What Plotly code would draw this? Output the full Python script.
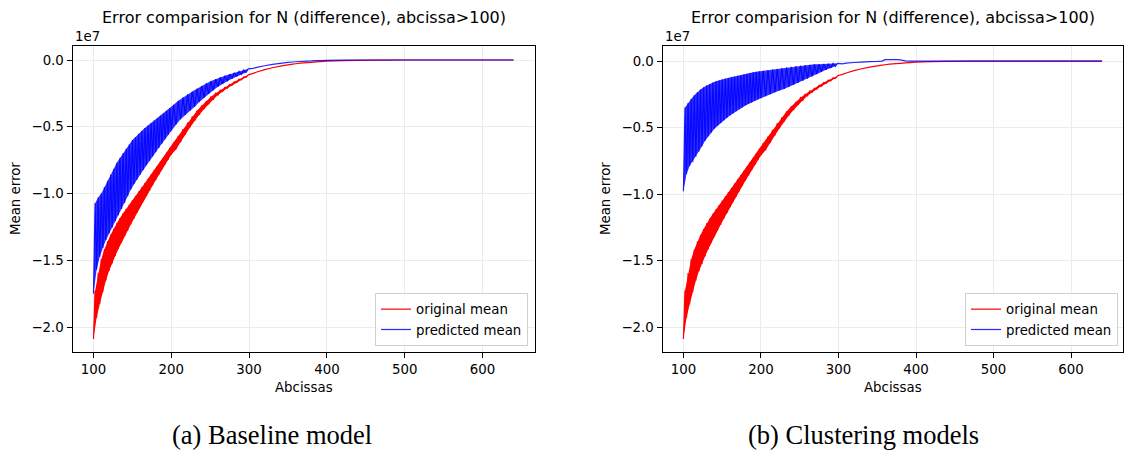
import plotly.graph_objects as go

# Sampled abscissas (denser where the mean error oscillates strongly)
abscissa = (list(range(100, 201, 2)) + list(range(203, 300, 3)) +
            [305, 310, 320, 330, 340, 350, 356, 360, 366, 374, 380, 386, 392,
             400, 420, 440, 470, 500, 550, 600, 640])
# the first OSC_POINTS samples alternate between trough (even index) and peak (odd index)
OSC_POINTS = 84

# Mean error values, in units of 1e7
original_mean = [
    -2.09, -1.728, -1.93, -1.594, -1.83, -1.49, -1.736, -1.418, -1.652, -1.358,
    -1.58, -1.308, -1.524, -1.264, -1.468, -1.22, -1.416, -1.184, -1.368, -1.148,
    -1.32, -1.114, -1.276, -1.082, -1.232, -1.05, -1.188, -1.018, -1.144, -0.986,
    -1.10, -0.954, -1.06, -0.922, -1.02, -0.89, -0.98, -0.858, -0.94, -0.826,
    -0.90, -0.794, -0.86, -0.762, -0.82, -0.73, -0.782, -0.694, -0.746, -0.658,
    -0.71,
    -0.616, -0.67, -0.568, -0.615, -0.518, -0.56, -0.468, -0.505, -0.423, -0.455,
    -0.38, -0.41, -0.342, -0.368, -0.308, -0.33, -0.276, -0.295, -0.249, -0.262,
    -0.225, -0.235, -0.204, -0.212, -0.183, -0.19, -0.162, -0.168, -0.144, -0.148,
    -0.127, -0.13, -0.111,
    -0.10, -0.09, -0.072, -0.058, -0.046, -0.036, -0.031, -0.028, -0.024, -0.02,
    -0.017, -0.014, -0.012, -0.009, -0.005, -0.003, -0.001, 0.0, 0.0, 0.0, 0.0,
]

baseline_predicted = [
    -1.75, -1.073, -1.57, -1.03, -1.475, -1.00, -1.408, -0.952, -1.348, -0.904,
    -1.30, -0.858, -1.254, -0.814, -1.208, -0.77, -1.162, -0.734, -1.116, -0.698,
    -1.07, -0.664, -1.02, -0.632, -0.97, -0.60, -0.928, -0.576, -0.894, -0.552,
    -0.86, -0.53, -0.824, -0.51, -0.788, -0.49, -0.754, -0.472, -0.722, -0.454,
    -0.69, -0.436, -0.658, -0.418, -0.626, -0.40, -0.594, -0.38, -0.562, -0.36,
    -0.53,
    -0.335, -0.485, -0.305, -0.444, -0.28, -0.411, -0.257, -0.38, -0.236, -0.35,
    -0.215, -0.314, -0.193, -0.281, -0.175, -0.254, -0.158, -0.227, -0.143, -0.20,
    -0.129, -0.179, -0.117, -0.159, -0.106, -0.141, -0.095, -0.124, -0.085, -0.108,
    -0.075, -0.094, -0.066,
    -0.062, -0.055, -0.043, -0.033, -0.025, -0.018, -0.015, -0.013, -0.011, -0.008,
    -0.007, -0.005, -0.004, -0.003, -0.001, 0.0, 0.0, 0.0, 0.0, 0.0, 0.0,
]

clustering_predicted = [
    -0.98, -0.35, -0.85, -0.315, -0.79, -0.285, -0.76, -0.258, -0.72, -0.235,
    -0.68, -0.215, -0.64, -0.197, -0.60, -0.183, -0.566, -0.172, -0.538, -0.161,
    -0.51, -0.152, -0.488, -0.145, -0.466, -0.138, -0.446, -0.132, -0.428, -0.127,
    -0.41, -0.121, -0.394, -0.116, -0.378, -0.11, -0.363, -0.105, -0.349, -0.10,
    -0.335, -0.095, -0.323, -0.09, -0.311, -0.085, -0.30, -0.081, -0.29, -0.078,
    -0.28,
    -0.073, -0.265, -0.068, -0.25, -0.063, -0.235, -0.058, -0.222, -0.052, -0.21,
    -0.048, -0.195, -0.043, -0.18, -0.038, -0.165, -0.034, -0.15, -0.031, -0.133,
    -0.028, -0.115, -0.025, -0.098, -0.024, -0.082, -0.022, -0.066, -0.02, -0.052,
    -0.018, -0.04, -0.017,
    -0.022, -0.016, -0.011, -0.008, -0.005, -0.003, -0.001, 0.010, 0.011, 0.010,
    0.009, 0.001, 0.0, -0.001, 0.0, 0.0, 0.0, 0.0, 0.0, 0.0, 0.0,
]

assert len(abscissa) == len(original_mean) == len(baseline_predicted) == len(clustering_predicted)

x_ticks = [100, 200, 300, 400, 500, 600]
y_ticks = [0.0, -0.5, -1.0, -1.5, -2.0]
panel_title = "Error comparision for N (difference), abcissa>100)"
captions = ["(a) Baseline model", "(b) Clustering models"]
series_names = ["original mean", "predicted mean"]

W, H = 1124, 450
FONT = "DejaVu Sans"
RED = "#ff0000"
BLUE = "rgba(0,0,255,0.85)"
BLUE_FILL = "rgba(10,10,255,0.85)"
LINE_W = 1.2

# panel geometry in pixels: (left, right) of each plot area, shared top/bottom
panels = [(72.5, 534.6), (662.5, 1123.0)]
top_px, bottom_px = 46, 352
y_ranges = [[-2.187, 0.105], [-2.188, 0.113]]
caption_x = [272, 863]
legend_right = [528, 1118]


def oscillation_band(values):
    """Polygon joining the peaks (forward) and troughs (backward) of the oscillating part."""
    peaks = list(range(1, OSC_POINTS, 2))
    troughs = list(range(0, OSC_POINTS, 2))[::-1]
    xs = [abscissa[j] for j in peaks] + [abscissa[j] for j in troughs]
    ys = [values[j] for j in peaks] + [values[j] for j in troughs]
    return xs, ys


fig = go.Figure()

predicted_sets = [baseline_predicted, clustering_predicted]
for i in range(2):
    xa = "x" if i == 0 else "x2"
    ya = "y" if i == 0 else "y2"
    lg = "legend" if i == 0 else "legend2"
    for values, color, fill_color, name in [
        (original_mean, RED, RED, series_names[0]),
        (predicted_sets[i], BLUE, BLUE_FILL, series_names[1]),
    ]:
        bx, by = oscillation_band(values)
        fig.add_trace(go.Scatter(
            x=bx, y=by, mode="lines", fill="toself", fillcolor=fill_color,
            line=dict(width=0, color=fill_color), hoverinfo="skip",
            showlegend=False, xaxis=xa, yaxis=ya))
        fig.add_trace(go.Scatter(
            x=abscissa, y=values, mode="lines", name=name,
            line=dict(color=color, width=LINE_W, simplify=False),
            xaxis=xa, yaxis=ya, legend=lg))

axis_common = dict(
    showline=True, mirror=True, linecolor="#000000", linewidth=1,
    ticks="outside", ticklen=5, tickwidth=1, tickcolor="#000000",
    showgrid=True, gridcolor="#ebebeb", gridwidth=1, zeroline=False,
    tickfont=dict(family=FONT, size=13.33, color="#000000"),
)

ydom = [(H - bottom_px) / H, (H - top_px) / H]
layout = dict(
    width=W, height=H,
    margin=dict(l=0, r=0, t=0, b=0),
    paper_bgcolor="white", plot_bgcolor="white",
    font=dict(family=FONT, size=13.33, color="#000000"),
    annotations=[],
)

for i, (l, r) in enumerate(panels):
    suffix = "" if i == 0 else "2"
    layout["xaxis" + suffix] = dict(
        axis_common, domain=[l / W, r / W], range=[73, 667],
        tickmode="array", tickvals=x_ticks, anchor="y" + suffix)
    layout["yaxis" + suffix] = dict(
        axis_common, domain=ydom, range=y_ranges[i],
        tickmode="array", tickvals=y_ticks, tickformat=".1f",
        anchor="x" + suffix)
    cx = (l + r) / 2
    ann = layout["annotations"]
    ann.append(dict(text=panel_title, x=cx / W, y=(H - 17) / H, xref="paper", yref="paper",
                    xanchor="center", yanchor="middle", showarrow=False,
                    font=dict(family=FONT, size=16, color="#000000")))
    ann.append(dict(text="1e7", x=l / W, y=(H - 37) / H, xref="paper", yref="paper",
                    xanchor="left", yanchor="middle", showarrow=False,
                    font=dict(family=FONT, size=13.33, color="#000000")))
    ann.append(dict(text="Abcissas", x=cx / W, y=(H - 387) / H, xref="paper", yref="paper",
                    xanchor="center", yanchor="middle", showarrow=False,
                    font=dict(family=FONT, size=13.33, color="#000000")))
    ann.append(dict(text="Mean error", x=(l - 56.5) / W, y=(H - (top_px + bottom_px) / 2) / H,
                    xref="paper", yref="paper", textangle=-90,
                    xanchor="center", yanchor="middle", showarrow=False,
                    font=dict(family=FONT, size=13.33, color="#000000")))
    ann.append(dict(text=captions[i], x=caption_x[i] / W, y=(H - 435) / H,
                    xref="paper", yref="paper",
                    xanchor="center", yanchor="middle", showarrow=False,
                    font=dict(family="Liberation Serif", size=26.5, color="#000000")))
    layout["legend" + suffix] = dict(
        x=legend_right[i] / W, y=(H - 346) / H, xanchor="right", yanchor="bottom",
        xref="paper", yref="paper",
        bgcolor="rgba(255,255,255,0.85)", bordercolor="#d0d0d0", borderwidth=1,
        font=dict(family=FONT, size=13.33, color="#000000"),
        traceorder="normal", itemwidth=30, tracegroupgap=0,
    )

fig.update_layout(**layout)
fig.write_html("out.html")
